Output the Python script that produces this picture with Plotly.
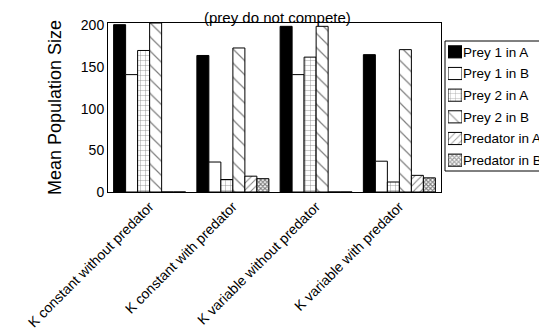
import plotly.graph_objects as go

categories = ["K constant without predator", "K constant with predator",
              "K variable without predator", "K variable with predator"]
prey1_A = [201, 164, 199, 165]
prey1_B = [141, 36, 141, 37]
prey2_A = [170, 15, 162, 12]
prey2_B = [203, 173, 199, 171]
pred_A = [0, 19, 0, 20]
pred_B = [0, 16, 0, 17]
series_names = ["Prey 1 in A", "Prey 1 in B", "Prey 2 in A", "Prey 2 in B",
                "Predator in A", "Predator in B"]
y_ticks = [0, 50, 100, 150, 200]

series_values = [prey1_A, prey1_B, prey2_A, prey2_B, pred_A, pred_B]
fill_colors = ["black", "white", "white", "white", "white", "white"]
pat_shapes = ["", "", "+", "\\", "/", "x"]
pat_sizes = [6, 6, 5, 10, 5, 3]
pat_solid = [0.3, 0.3, 0.15, 0.12, 0.2, 0.6]

FONT = "Arial, Liberation Sans, sans-serif"
fig = go.Figure()
for i, (name, vals) in enumerate(zip(series_names, series_values)):
    fig.add_trace(go.Bar(
        x=categories, y=vals, name=name, showlegend=False,
        marker=dict(color=fill_colors[i], line=dict(color="black", width=1),
                    pattern=dict(shape=pat_shapes[i], size=pat_sizes[i],
                                 solidity=pat_solid[i], fgcolor="black",
                                 bgcolor=fill_colors[i], fillmode="overlay"))))

# legend drawn as a small swatch chart (one swatch per series)
fig.add_trace(go.Bar(
    y=series_names, x=[1] * len(series_names), orientation="h",
    xaxis="x2", yaxis="y2", width=0.56, showlegend=False, hoverinfo="skip",
    marker=dict(color=fill_colors, line=dict(color="black", width=1),
                pattern=dict(shape=pat_shapes, size=pat_sizes, solidity=pat_solid,
                             fgcolor="black", bgcolor=fill_colors, fillmode="overlay"))))

W, H = 547, 332
L, R, T, B = 100, 2, 15, 148
pw, ph = W - L - R, H - T - B
px = lambda v: (v - L) / pw
py = lambda v: (H - B - v) / ph

fig.update_layout(
    width=W, height=H,
    margin=dict(l=L, r=R, t=T, b=B, autoexpand=False),
    barmode="group", bargap=0.135, bargroupgap=0,
    plot_bgcolor="white", paper_bgcolor="white",
    font=dict(family=FONT, color="black"),
    showlegend=False,
    xaxis=dict(domain=[0, px(433)], showline=True, linecolor="black", linewidth=1,
               mirror=True, tickangle=-45, tickfont=dict(size=14, family=FONT),
               ticks="", showgrid=False),
    yaxis=dict(range=[0, 203], tickvals=y_ticks, showline=True, linecolor="black",
               linewidth=1, mirror=True, ticks="", showgrid=False, zeroline=False,
               tickfont=dict(size=14, family=FONT),
               title=dict(text="Mean Population Size",
                          font=dict(size=18, family=FONT), standoff=14)),
    xaxis2=dict(domain=[px(440), px(454)], range=[0, 1], anchor="y2",
                visible=False, fixedrange=True),
    yaxis2=dict(domain=[py(163), py(33)], anchor="free", position=px(454),
                side="right", autorange="reversed", showline=False, ticks="",
                ticklen=0, showgrid=False, tickfont=dict(size=13.5, family=FONT),
                ticklabelstandoff=0, fixedrange=True),
    shapes=[dict(type="rect", xref="paper", yref="paper",
                 x0=px(437), x1=px(545), y0=py(163), y1=py(33),
                 line=dict(color="black", width=1), fillcolor="rgba(0,0,0,0)",
                 layer="below")],
    annotations=[dict(text="(prey do not compete)", xref="paper", yref="paper",
                      x=(269 - L) / pw, y=py(0), xanchor="center", yanchor="top",
                      borderpad=0, showarrow=False, font=dict(size=15, family=FONT))],
)

fig.write_html("out.html")
